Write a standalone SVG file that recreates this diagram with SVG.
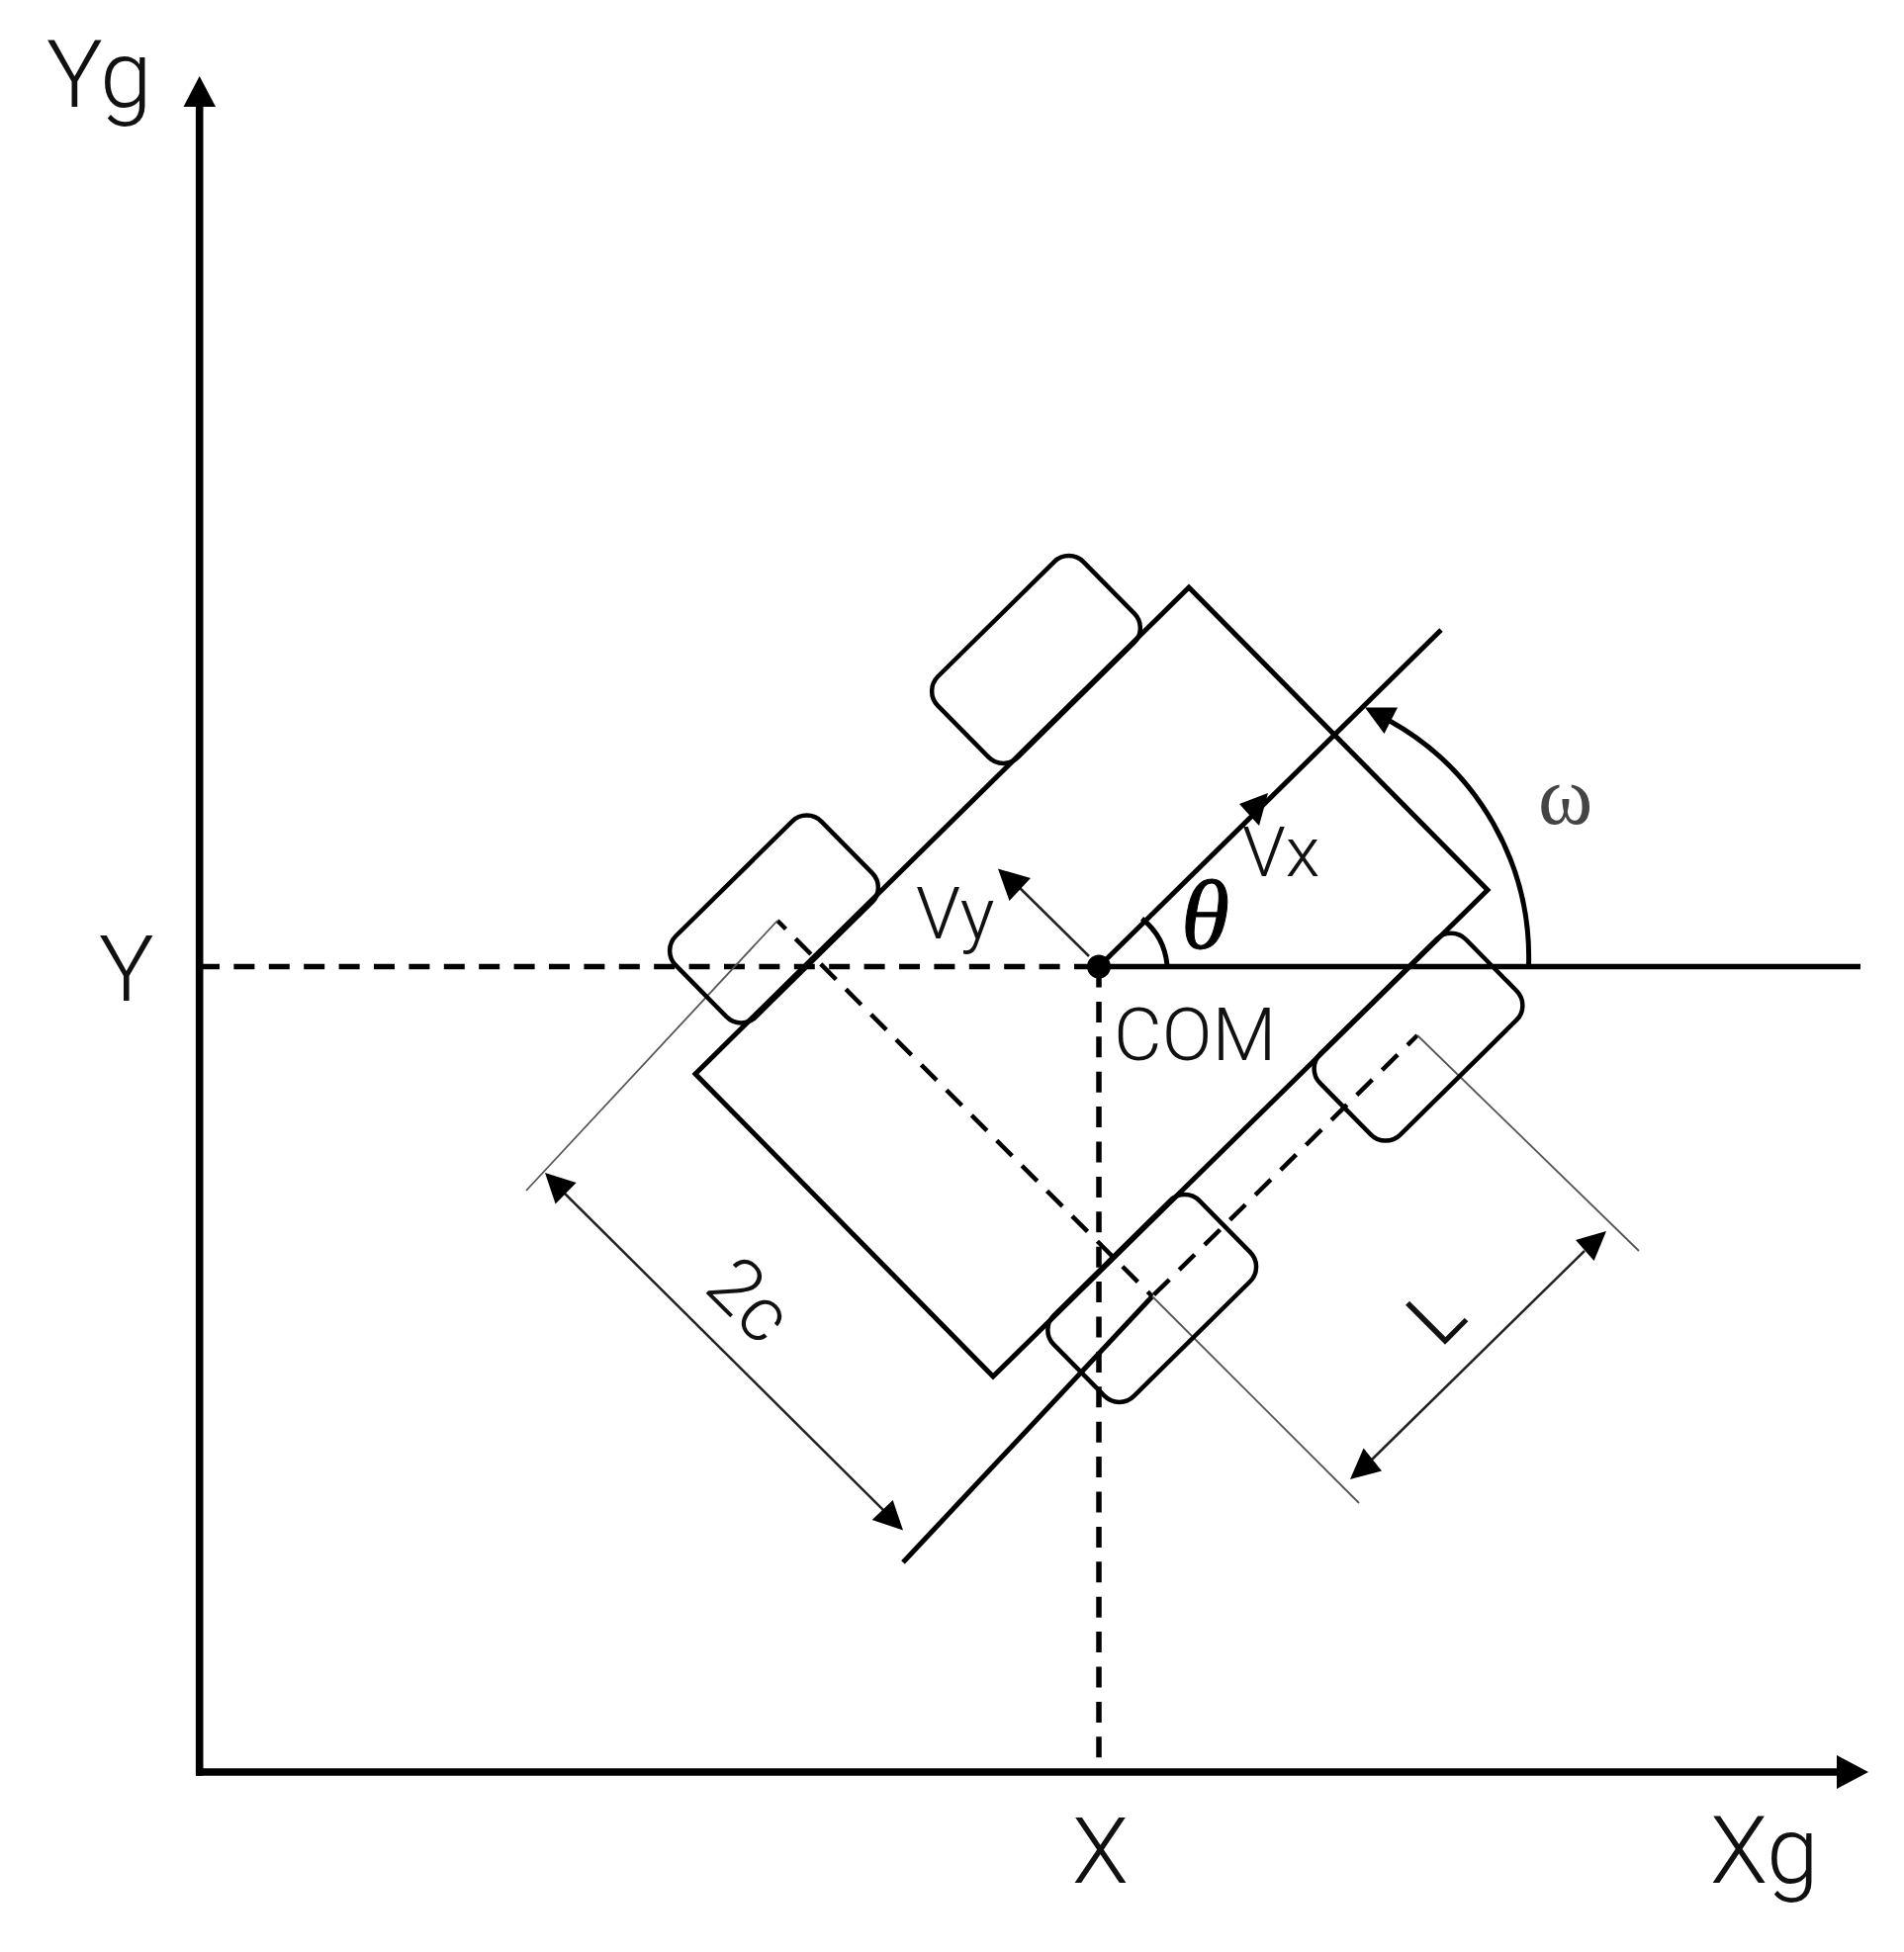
<svg xmlns="http://www.w3.org/2000/svg" width="1925" height="1974" viewBox="0 0 1925 1974">
<style>
.ln{fill:none;stroke:#000;stroke-width:5}
.ax{fill:none;stroke:#000;stroke-width:7.600}
.mid{fill:none;stroke:#000;stroke-width:5.500}
.dsh{fill:none;stroke:#000;stroke-width:5.500;stroke-dasharray:21 14.400}
.dg{fill:none;stroke:#000;stroke-width:4.500;stroke-dasharray:22 14}
.thin{fill:none;stroke:#555;stroke-width:1.800}
.dim{fill:none;stroke:#222;stroke-width:2.500}
.hd{fill:#000;stroke:none}
.w{fill:none;stroke:#000;stroke-width:4.500}
text{font-family:"Roboto","Liberation Sans",sans-serif;font-weight:300;fill:#111}
</style>
<rect width="1925" height="1974" fill="#fff"/>
<g id="connectors">
<path class="ax" d="M201.700 1795.800V100"/>
<path class="hd" d="M201.700 77L218 108H185.500Z"/>
<path class="ax" d="M198 1792H1865"/>
<path class="hd" d="M1889 1792L1857 1775V1809Z"/>
<path class="dsh" d="M201 977.500H1111"/>
<path class="mid" d="M1111 977.500H1881"/>
<path class="dsh" d="M1111 977.500V1783"/>
<path class="ln" d="M1111 977.500L1457 637"/>
<path class="hd" d="M1282 802L1253 813L1273 835Z"/>
<path class="dim" d="M1101 967L1025 892"/>
<path class="hd" d="M1009 878.600L1042 888L1020.500 911Z"/>
<path class="ln" d="M1154.500 929A68 68 0 0 1 1180 976"/>
<path class="ln" d="M1545.500 977A274 274 0 0 0 1405 729"/>
<path class="hd" d="M1380 715.500L1413 715.500L1399.500 742Z"/>
<path class="dg" style="stroke-dashoffset:10" d="M786 931L1165 1311"/>
<path class="dg" style="stroke-dashoffset:8" d="M1433 1047L1165 1311"/>
<path class="ln" d="M1165 1311L913 1580"/>
<path class="thin" d="M786 931L532 1204"/>
<path class="thin" d="M1433 1047L1657 1265"/>
<path class="thin" d="M1165 1311L1374 1520"/>
<path class="dim" d="M565 1201L898 1532"/>
<path class="hd" d="M551 1186L582.600 1196L561.600 1217.500Z"/>
<path class="hd" d="M913 1547.600L881.700 1537L902.700 1517Z"/>
<path class="dim" d="M1602 1265L1387 1476"/>
<path class="hd" d="M1624 1245L1593 1254L1611.600 1275Z"/>
<path class="hd" d="M1365 1496L1397 1487.600L1378.600 1464.600Z"/>
</g>
<g id="body"><path class="ln" d="M1202 594L1504 900L1004 1392L703 1086Z"/></g>
<g id="wheel-top"><rect class="w" x="-103.500" y="-57.500" width="207" height="115" rx="21" transform="translate(1047.500 667) rotate(-44.600)"/></g>
<g id="wheel-left"><rect class="w" x="-103.500" y="-57.500" width="207" height="115" rx="21" transform="translate(782.500 929.500) rotate(-44.600)"/></g>
<g id="wheel-right"><rect class="w" x="-103.500" y="-57.500" width="207" height="115" rx="21" transform="translate(1434 1048.700) rotate(-44.600)"/></g>
<g id="wheel-bottom"><rect class="w" x="-103.500" y="-57.500" width="207" height="115" rx="21" transform="translate(1164.700 1313) rotate(-44.600)"/></g>
<g id="com"><circle cx="1111" cy="977.500" r="12" fill="#000"/></g>
<g id="labels">
<text x="47" y="108" font-size="95">Yg</text>
<text x="100" y="1012" font-size="93">Y</text>
<text x="1084" y="1904" font-size="93">X</text>
<text x="1729" y="1904" font-size="95">Xg</text>
<text x="1126" y="1072" font-size="75">COM</text>
<text x="1256" y="886" font-size="71">Vx</text>
<text x="926" y="949" font-size="73">Vy</text>
<text x="1194" y="959" font-size="100" style="font-family:'Liberation Serif',serif;font-weight:400;font-style:italic;fill:#000;stroke:#000;stroke-width:1">θ</text>
<text x="1555" y="833" font-size="84" style="font-family:'Liberation Serif',serif;font-weight:400;fill:#444">ω</text>
<text x="0" y="0" font-size="78" style="stroke:#111;stroke-width:1" transform="translate(1456 1364) rotate(-45)">L</text>
<text x="0" y="0" font-size="78" transform="translate(710 1304) rotate(45)">2c</text>
</g>
</svg>
